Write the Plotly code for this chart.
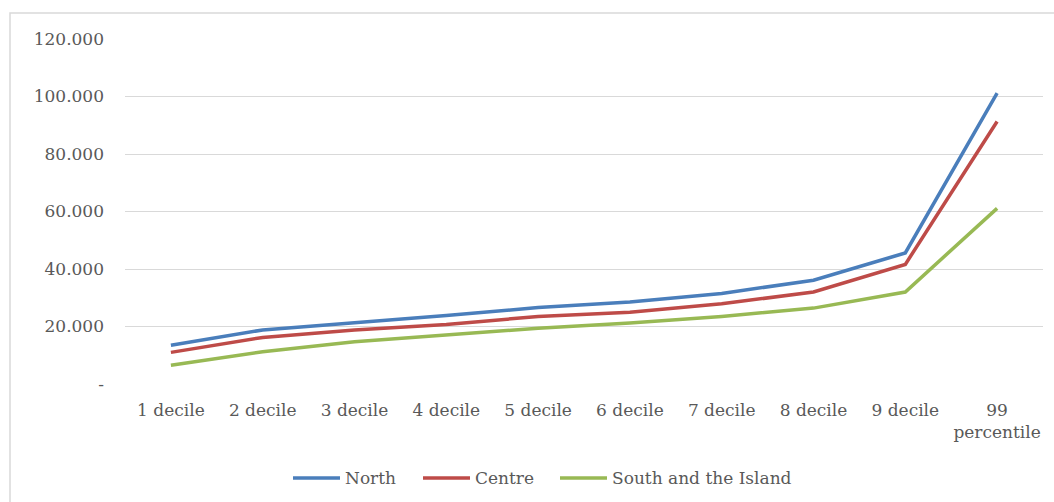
import plotly.graph_objects as go

categories = ["1 decile", "2 decile", "3 decile", "4 decile", "5 decile",
              "6 decile", "7 decile", "8 decile", "9 decile", "99<br>percentile"]

north = [13500, 18800, 21300, 23800, 26600, 28500, 31500, 36100, 45600, 101200]
centre = [11000, 16200, 18800, 20700, 23500, 25000, 27900, 32000, 41600, 91300]
south = [6500, 11200, 14700, 17000, 19400, 21200, 23500, 26400, 32000, 61100]

y_tick_vals = [0, 20000, 40000, 60000, 80000, 100000, 120000]
y_tick_text = ["-", "20.000", "40.000", "60.000", "80.000", "100.000", "120.000"]

series = [
    ("North", north, "#4a7ebb"),
    ("Centre", centre, "#be4b48"),
    ("South and the Island", south, "#98b954"),
]

font_family = "DejaVu Serif"
text_color = "#595959"

fig = go.Figure()
for name, values, color in series:
    fig.add_trace(go.Scatter(
        x=categories, y=values, name=name, mode="lines",
        line=dict(color=color, width=3.5), showlegend=False,
    ))

W, H = 1054, 502
ml, mr, mt, mb = 125, 11, 39, 118
pw, ph = W - ml - mr, H - mt - mb


def px_x(px):
    return (px - ml) / pw


def px_y(py):
    return (H - mb - py) / ph


# Light frame around the whole chart area
fig.add_shape(
    type="rect", xref="paper", yref="paper",
    x0=px_x(10), x1=px_x(W + 20),
    y0=px_y(H + 20), y1=px_y(13),
    line=dict(color="#d9d9d9", width=1.5), fillcolor="rgba(0,0,0,0)",
    layer="below",
)

# Legend keys: long line sample followed by the series name
legend_y = 478
legend_line_starts = [293, 423, 560]
key_len = 47
for (name, _, color), x0 in zip(series, legend_line_starts):
    fig.add_shape(
        type="line", xref="paper", yref="paper",
        x0=px_x(x0), x1=px_x(x0 + key_len),
        y0=px_y(legend_y), y1=px_y(legend_y),
        line=dict(color=color, width=3.5),
    )
    fig.add_annotation(
        xref="paper", yref="paper",
        x=px_x(x0 + key_len + 3), y=px_y(legend_y),
        xanchor="left", yanchor="middle", showarrow=False,
        text=name, font=dict(family=font_family, size=17, color=text_color),
    )

fig.update_layout(
    width=W, height=H,
    margin=dict(l=ml, r=mr, t=mt, b=mb),
    paper_bgcolor="white", plot_bgcolor="white",
    font=dict(family=font_family, color=text_color, size=17),
    showlegend=False,
    xaxis=dict(
        showgrid=False, zeroline=False, showline=False,
        ticks="", tickfont=dict(size=17, color=text_color),
        ticklabelstandoff=14,
        range=[-0.5, len(categories) - 0.5],
    ),
    yaxis=dict(
        range=[0, 120000],
        tickvals=y_tick_vals, ticktext=y_tick_text,
        showgrid=True, gridcolor="#d9d9d9", gridwidth=1,
        zeroline=False, showline=False, ticks="",
        tickfont=dict(size=17, color=text_color),
        ticklabelstandoff=20,
    ),
)

fig.write_html("out.html")
